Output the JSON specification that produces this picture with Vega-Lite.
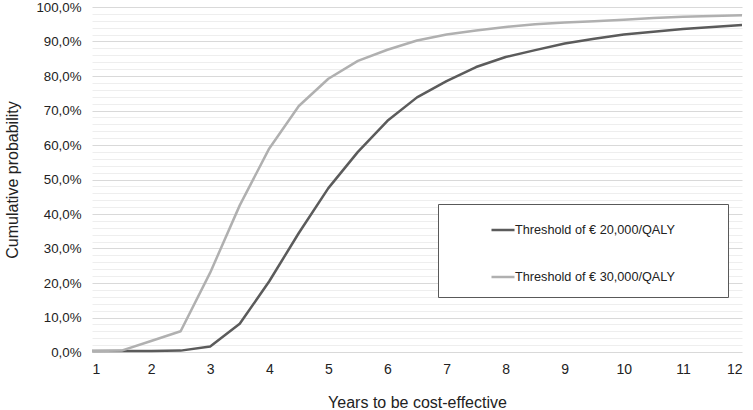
{
  "$schema": "https://vega.github.io/schema/vega-lite/v6.json",
  "width": 650,
  "height": 345,
  "autosize": "none",
  "padding": {"left": 92, "top": 7, "right": 11, "bottom": 58},
  "background": "white",
  "config": {
    "view": {"stroke": null},
    "font": "Liberation Sans",
    "axis": {"labelFont": "Liberation Sans", "titleFont": "Liberation Sans", "labelColor": "#222222", "titleColor": "#222222", "titleFontWeight": "normal"},
    "legend": {"labelFont": "Liberation Sans", "titleFont": "Liberation Sans"}
  },
  "data": {
    "values": [
      {"year": 1, "p": 0.003, "series": "Threshold of € 20,000/QALY"},
      {"year": 1.5, "p": 0.003, "series": "Threshold of € 20,000/QALY"},
      {"year": 2, "p": 0.003, "series": "Threshold of € 20,000/QALY"},
      {"year": 2.5, "p": 0.004, "series": "Threshold of € 20,000/QALY"},
      {"year": 3, "p": 0.016, "series": "Threshold of € 20,000/QALY"},
      {"year": 3.5, "p": 0.082, "series": "Threshold of € 20,000/QALY"},
      {"year": 4, "p": 0.205, "series": "Threshold of € 20,000/QALY"},
      {"year": 4.5, "p": 0.345, "series": "Threshold of € 20,000/QALY"},
      {"year": 5, "p": 0.475, "series": "Threshold of € 20,000/QALY"},
      {"year": 5.5, "p": 0.58, "series": "Threshold of € 20,000/QALY"},
      {"year": 6, "p": 0.67, "series": "Threshold of € 20,000/QALY"},
      {"year": 6.5, "p": 0.738, "series": "Threshold of € 20,000/QALY"},
      {"year": 7, "p": 0.785, "series": "Threshold of € 20,000/QALY"},
      {"year": 7.5, "p": 0.826, "series": "Threshold of € 20,000/QALY"},
      {"year": 8, "p": 0.855, "series": "Threshold of € 20,000/QALY"},
      {"year": 8.5, "p": 0.875, "series": "Threshold of € 20,000/QALY"},
      {"year": 9, "p": 0.894, "series": "Threshold of € 20,000/QALY"},
      {"year": 9.5, "p": 0.908, "series": "Threshold of € 20,000/QALY"},
      {"year": 10, "p": 0.92, "series": "Threshold of € 20,000/QALY"},
      {"year": 10.5, "p": 0.928, "series": "Threshold of € 20,000/QALY"},
      {"year": 11, "p": 0.936, "series": "Threshold of € 20,000/QALY"},
      {"year": 11.5, "p": 0.942, "series": "Threshold of € 20,000/QALY"},
      {"year": 12, "p": 0.948, "series": "Threshold of € 20,000/QALY"},
      {"year": 1, "p": 0.003, "series": "Threshold of € 30,000/QALY"},
      {"year": 1.5, "p": 0.004, "series": "Threshold of € 30,000/QALY"},
      {"year": 2, "p": 0.032, "series": "Threshold of € 30,000/QALY"},
      {"year": 2.5, "p": 0.06, "series": "Threshold of € 30,000/QALY"},
      {"year": 3, "p": 0.23, "series": "Threshold of € 30,000/QALY"},
      {"year": 3.5, "p": 0.425, "series": "Threshold of € 30,000/QALY"},
      {"year": 4, "p": 0.59, "series": "Threshold of € 30,000/QALY"},
      {"year": 4.5, "p": 0.713, "series": "Threshold of € 30,000/QALY"},
      {"year": 5, "p": 0.792, "series": "Threshold of € 30,000/QALY"},
      {"year": 5.5, "p": 0.844, "series": "Threshold of € 30,000/QALY"},
      {"year": 6, "p": 0.876, "series": "Threshold of € 30,000/QALY"},
      {"year": 6.5, "p": 0.903, "series": "Threshold of € 30,000/QALY"},
      {"year": 7, "p": 0.92, "series": "Threshold of € 30,000/QALY"},
      {"year": 7.5, "p": 0.932, "series": "Threshold of € 30,000/QALY"},
      {"year": 8, "p": 0.942, "series": "Threshold of € 30,000/QALY"},
      {"year": 8.5, "p": 0.95, "series": "Threshold of € 30,000/QALY"},
      {"year": 9, "p": 0.955, "series": "Threshold of € 30,000/QALY"},
      {"year": 9.5, "p": 0.959, "series": "Threshold of € 30,000/QALY"},
      {"year": 10, "p": 0.963, "series": "Threshold of € 30,000/QALY"},
      {"year": 10.5, "p": 0.968, "series": "Threshold of € 30,000/QALY"},
      {"year": 11, "p": 0.972, "series": "Threshold of € 30,000/QALY"},
      {"year": 11.5, "p": 0.974, "series": "Threshold of € 30,000/QALY"},
      {"year": 12, "p": 0.976, "series": "Threshold of € 30,000/QALY"}
    ]
  },
  "mark": {"type": "line", "strokeWidth": 2.5, "strokeJoin": "round"},
  "encoding": {
    "x": {
      "field": "year",
      "type": "quantitative",
      "scale": {"domain": [1, 12], "nice": false, "zero": false},
      "axis": {
        "values": [1, 2, 3, 4, 5, 6, 7, 8, 9, 10, 11, 12],
        "grid": false,
        "domain": false,
        "ticks": false,
        "labelFontSize": 14,
        "labelPadding": 10,
        "title": "Years to be cost-effective",
        "titleFontSize": 16,
        "titleX": 325,
        "titleY": 50,
        "titleBaseline": "middle",
        "titleAlign": "center"
      }
    },
    "y": {
      "field": "p",
      "type": "quantitative",
      "scale": {"domain": [0, 1], "nice": false},
      "axis": {
        "values": [0, 0.02, 0.04, 0.06, 0.08, 0.1, 0.12, 0.14, 0.16, 0.18, 0.2, 0.22, 0.24, 0.26, 0.28, 0.3, 0.32, 0.34, 0.36, 0.38, 0.4, 0.42, 0.44, 0.46, 0.48, 0.5, 0.52, 0.54, 0.56, 0.58, 0.6, 0.62, 0.64, 0.66, 0.68, 0.7, 0.72, 0.74, 0.76, 0.78, 0.8, 0.82, 0.84, 0.86, 0.88, 0.9, 0.92, 0.94, 0.96, 0.98, 1],
        "labelExpr": "round(datum.value*100) % 10 == 0 ? replace(format(datum.value, '.1%'), '.', ',') : ''",
        "labelOverlap": false,
        "labelFontSize": 13.3,
        "labelPadding": 11,
        "domain": false,
        "ticks": false,
        "grid": true,
        "gridColor": {"condition": {"test": "round(datum.value*100) % 10 == 0", "value": "#d9d9d9"}, "value": "#eeeeee"},
        "gridWidth": 1,
        "title": "Cumulative probability",
        "titleFontSize": 16,
        "titleAngle": -90,
        "titleX": -80,
        "titleY": 172.5,
        "titleAlign": "center",
        "titleBaseline": "middle"
      }
    },
    "color": {
      "field": "series",
      "type": "nominal",
      "scale": {"domain": ["Threshold of € 20,000/QALY", "Threshold of € 30,000/QALY"], "range": ["#5b5b5b", "#b0b0b0"]},
      "legend": {
        "orient": "none",
        "legendX": 346,
        "legendY": 197,
        "direction": "vertical",
        "strokeColor": "#595959",
        "fillColor": "white",
        "padding": 13,
        "symbolType": "stroke",
        "symbolSize": 530,
        "symbolStrokeWidth": 2.5,
        "symbolOffset": 39,
        "labelOffset": -1,
        "labelFontSize": 12.7,
        "labelLimit": 400,
        "labelColor": "#222222",
        "rowPadding": 27,
        "title": " ",
        "titleOrient": "right",
        "titlePadding": 40,
        "titleFontSize": 13
      }
    }
  }
}
